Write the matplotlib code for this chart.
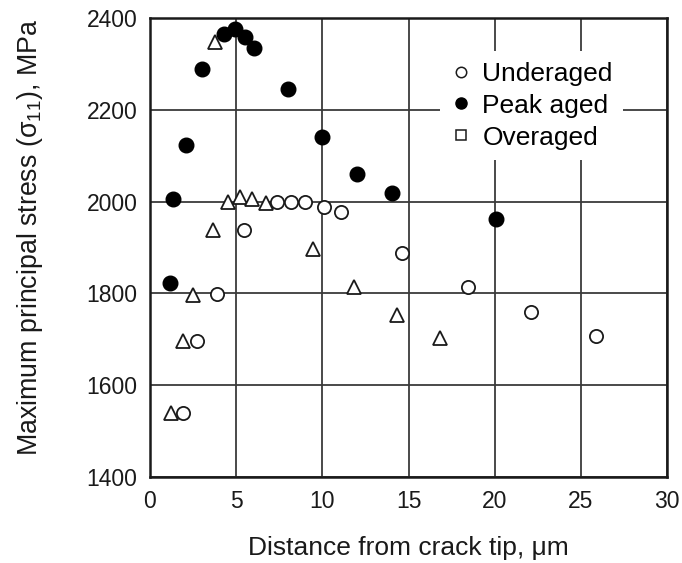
import matplotlib
matplotlib.use("Agg")
import matplotlib.pyplot as plt
from matplotlib.lines import Line2D

plt.rcParams['font.family'] = ['Liberation Sans', 'DejaVu Sans']
plt.rcParams['mathtext.default'] = 'regular'

# Underaged (open circles)
under_x = [1.93, 2.7, 3.86, 5.46, 7.37, 8.16, 8.97, 10.09, 11.09, 14.62, 18.48, 22.13, 25.87]
under_y = [1539, 1696, 1798, 1938, 2000, 2000, 2000, 1989, 1977, 1889, 1814, 1759, 1708]

# Peak aged (filled circles)
peak_x = [1.16, 1.31, 2.08, 2.99, 4.28, 4.92, 5.5, 6.04, 8.0, 9.97, 12.0, 14.04, 20.06]
peak_y = [1822, 2005, 2123, 2288, 2365, 2375, 2358, 2334, 2245, 2141, 2060, 2018, 1962]

# Overaged (open triangles)
over_x = [1.2, 1.93, 2.47, 3.63, 3.8, 4.53, 5.25, 5.94, 6.71, 9.45, 11.86, 14.31, 16.82]
over_y = [1540, 1696, 1796, 1938, 2348, 2000, 2011, 2005, 1998, 1896, 1814, 1753, 1702]

x_ticks = [0, 5, 10, 15, 20, 25, 30]
y_ticks = [1400, 1600, 1800, 2000, 2200, 2400]

fig = plt.figure(figsize=(6.82, 5.63), dpi=100)
ax = fig.add_axes([150/682, (563-477)/563, (667-150)/682, (477-18)/563])

ax.set_xlim(0, 30)
ax.set_ylim(1400, 2400)
ax.set_xticks(x_ticks)
ax.set_yticks(y_ticks)
ax.grid(True, color='#3a3a3a', linewidth=1.3)
ax.set_axisbelow(True)
ax.tick_params(length=0, labelsize=16.5, pad=9, colors='#1a1a1a')
for s in ax.spines.values():
    s.set_linewidth(1.8)
    s.set_color('#1a1a1a')

ax.plot(over_x, over_y, linestyle='none', marker='^', markersize=9.5,
        markerfacecolor='white', markeredgecolor='#1a1a1a', markeredgewidth=1.3, zorder=3)
ax.plot(under_x, under_y, linestyle='none', marker='o', markersize=9.5,
        markerfacecolor='white', markeredgecolor='#1a1a1a', markeredgewidth=1.3, zorder=3)
ax.plot(peak_x, peak_y, linestyle='none', marker='o', markersize=10.5,
        markerfacecolor='black', markeredgecolor='black', zorder=4)

handles = [
    Line2D([], [], linestyle='none', marker='o', markersize=7.5, markerfacecolor='white',
           markeredgecolor='#1a1a1a', markeredgewidth=1.1),
    Line2D([], [], linestyle='none', marker='o', markersize=8, markerfacecolor='black',
           markeredgecolor='black'),
    Line2D([], [], linestyle='none', marker='s', markersize=7.5, markerfacecolor='white',
           markeredgecolor='#1a1a1a', markeredgewidth=1.1),
]
leg = ax.legend(handles, ['Underaged', 'Peak aged', 'Overaged'], loc='upper left',
                bbox_to_anchor=((427-150)/517, (477-38)/459), frameon=True, facecolor='white',
                edgecolor='none', framealpha=1, fancybox=False, fontsize=19,
                handlelength=0.8, handletextpad=0.4, labelspacing=0.3, borderpad=0.4)
leg.set_zorder(5)

ax.set_xlabel('Distance from crack tip, μm', fontsize=19, labelpad=17, color='#1a1a1a')
ax.set_ylabel('Maximum principal stress (σ$_{11}$), MPa', fontsize=19.3, color='#1a1a1a')
ax.yaxis.set_label_coords(-0.203, 0.523)

fig.savefig('out.png', dpi=100)
